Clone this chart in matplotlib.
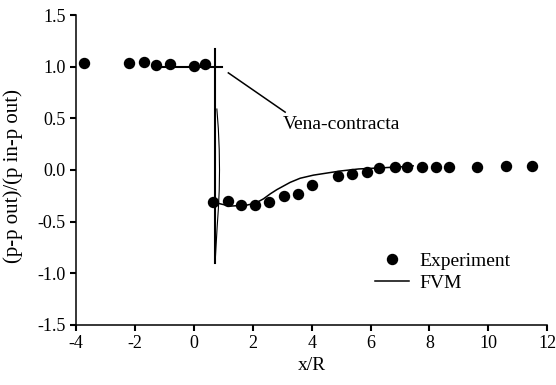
import matplotlib.pyplot as plt

plt.rcParams['font.family'] = ['Liberation Serif', 'DejaVu Serif']
plt.rcParams['font.size'] = 13

# measured pressure coefficient along the pipe
exp_x = [-3.72, -2.22, -1.68, -1.29, -0.82, 0.0, 0.36,
         0.64, 1.15, 1.60, 2.09, 2.56, 3.05, 3.53, 4.0,
         4.91, 5.37, 5.87, 6.29, 6.83, 7.23, 7.74, 8.23, 8.67,
         9.61, 10.6, 11.48]
exp_y = [1.04, 1.04, 1.05, 1.02, 1.03, 1.01, 1.03,
         -0.31, -0.30, -0.34, -0.34, -0.31, -0.25, -0.23, -0.15,
         -0.06, -0.04, -0.02, 0.02, 0.03, 0.03, 0.03, 0.03, 0.03,
         0.03, 0.04, 0.04]

# FVM solution, upstream part
fvm_up_x = [-1.3, 0.95]
fvm_up_y = [1.0, 1.0]

# orifice plate position
plate_x = [0.72, 0.72]
plate_y = [1.17, -0.90]

# thin loop right behind the plate
loop_x = [0.78, 0.83, 0.86, 0.87, 0.86, 0.83, 0.79, 0.75, 0.72]
loop_y = [0.59, 0.40, 0.20, 0.0, -0.20, -0.38, -0.55, -0.75, -0.90]

# FVM solution, downstream part
fvm_dn_x = [0.78, 1.23, 1.80, 2.10, 2.36, 2.60, 2.82, 3.27, 3.61, 4.06,
            4.97, 5.6, 6.32, 7.0, 7.45]
fvm_dn_y = [-0.32, -0.35, -0.34, -0.32, -0.28, -0.23, -0.19, -0.12, -0.08, -0.05,
            -0.01, 0.01, 0.02, 0.03, 0.04]

fig = plt.figure(figsize=(5.56, 3.85), dpi=100)
ax = fig.add_axes([0.137, 0.156, 0.847, 0.805])

ax.plot(exp_x, exp_y, 'o', color='black', markersize=7.2, label='Experiment', zorder=3)
ax.plot(fvm_dn_x, fvm_dn_y, '-', color='black', linewidth=1.1, label='FVM')
ax.plot(fvm_up_x, fvm_up_y, '-', color='black', linewidth=1.5)
ax.plot(plate_x, plate_y, '-', color='black', linewidth=1.5)
ax.plot(loop_x, loop_y, '-', color='black', linewidth=0.8)

# vena contracta callout
ax.plot([1.17, 3.10], [0.94, 0.56], '-', color='black', linewidth=1.1)
ax.text(3.03, 0.44, 'Vena-contracta', va='center', ha='left', fontsize=14)

ax.set_xlim(-4, 12)
ax.set_ylim(-1.5, 1.5)
ax.set_xticks(range(-4, 13, 2))
ax.set_yticks([-1.5, -1.0, -0.5, 0.0, 0.5, 1.0, 1.5])
ax.set_yticklabels(['-1.5', '-1.0', '-0.5', '0.0', '0.5', '1.0', '1.5'])
ax.set_xticklabels([str(v) for v in range(-4, 13, 2)])

ax.spines['top'].set_visible(False)
ax.spines['right'].set_visible(False)
ax.spines['left'].set_linewidth(1.1)
ax.spines['bottom'].set_linewidth(1.1)
ax.tick_params(direction='out', length=4, width=1.5, labelsize=13)

ax.set_xlabel('x/R', labelpad=3, fontsize=14)
ax.set_ylabel('(p-p out)/(p in-p out)', fontsize=15)
ax.yaxis.set_label_coords(-0.112, 0.48)

ax.legend(loc='center left', bbox_to_anchor=(0.597, 0.171), frameon=False, fontsize=14,
          handlelength=1.75, handletextpad=0.55, labelspacing=0.25)

plt.savefig('out.png', dpi=100)
